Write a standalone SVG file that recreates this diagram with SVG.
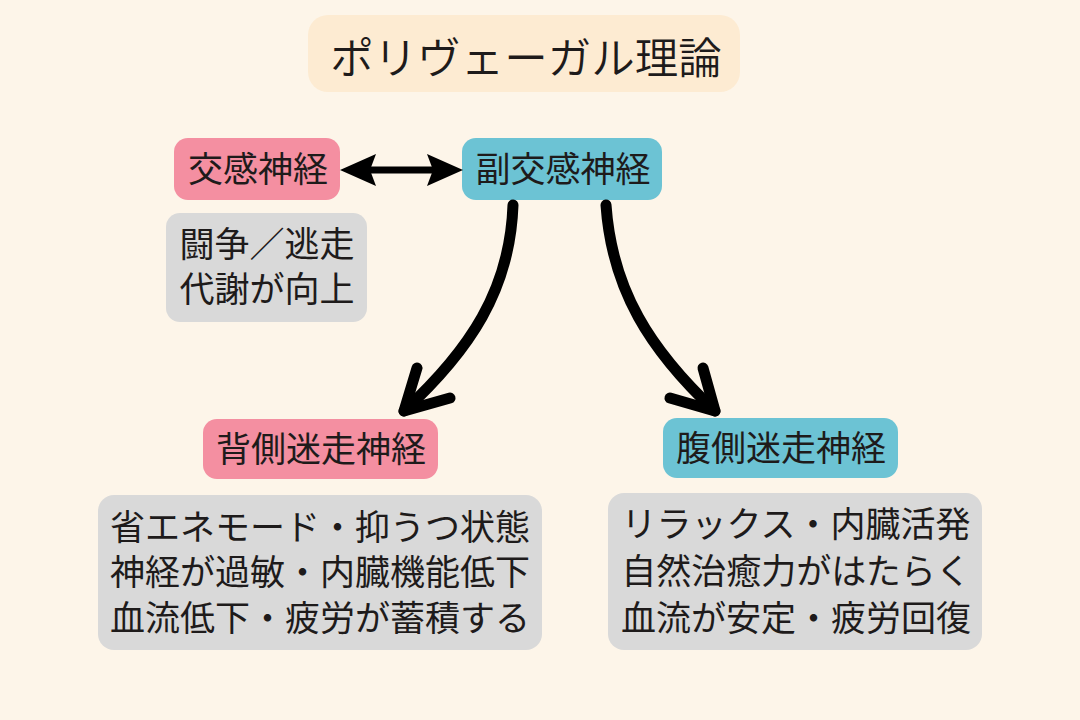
<svg xmlns="http://www.w3.org/2000/svg" width="1080" height="720" viewBox="0 0 1080 720">
<defs>
<style>
.t{font-family:"Noto Sans CJK JP","Noto Sans CJK SC",sans-serif;fill:#1e1b1b;text-anchor:middle}
.lbl{font-size:35px}
.body{font-size:35px}
.pink{fill:#f48fa1}
.teal{fill:#6cc3d4}
.gray{fill:#d9d9d9}
.conn{fill:none;stroke:#000;stroke-width:11;stroke-linecap:round;stroke-linejoin:round}
</style>
</defs>
<rect width="1080" height="720" fill="#fdf5e9"/>
<g id="title">
<rect x="308" y="15" width="432" height="77" rx="20" fill="#fdebd2"/>
<text class="t" x="526" y="74" font-size="43.5" font-weight="350">ポリヴェーガル理論</text>
</g>
<g id="sympathetic">
<rect class="pink" x="174" y="138" width="166" height="62" rx="14"/>
<text class="t lbl" x="258" y="182">交感神経</text>
</g>
<g id="parasympathetic">
<rect class="teal" x="462" y="138" width="200" height="62" rx="14"/>
<text class="t lbl" x="563" y="182">副交感神経</text>
</g>
<g id="sympathetic-note">
<rect class="gray" x="166" y="213" width="201" height="109" rx="14"/>
<text class="t body" x="267" y="257">闘争／逃走<tspan x="267" y="302">代謝が向上</tspan></text>
</g>
<g id="dorsal">
<rect class="pink" x="203" y="419" width="235" height="60" rx="14"/>
<text class="t lbl" x="321" y="462">背側迷走神経</text>
</g>
<g id="dorsal-note">
<rect class="gray" x="98" y="495" width="444" height="155" rx="16"/>
<text class="t body" x="320" y="540">省エネモード・抑うつ状態<tspan x="320" y="585">神経が過敏・内臓機能低下</tspan><tspan x="320" y="631">血流低下・疲労が蓄積する</tspan></text>
</g>
<g id="ventral">
<rect class="teal" x="663" y="418" width="235" height="60" rx="14"/>
<text class="t lbl" x="781" y="461">腹側迷走神経</text>
</g>
<g id="ventral-note">
<rect class="gray" x="608" y="493" width="374" height="157" rx="16"/>
<text class="t body" x="796" y="537">リラックス・内臓活発<tspan x="796" y="584">自然治癒力がはたらく</tspan><tspan x="796" y="631">血流が安定・疲労回復</tspan></text>
</g>
<g id="connectors">
<line x1="368" y1="170" x2="436" y2="170" stroke="#000" stroke-width="7"/>
<path d="M340,170 L376,154 L370,170 L376,186 Z" fill="#000"/>
<path d="M463,170 L427,154 L433,170 L427,186 Z" fill="#000"/>
<path class="conn" d="M513,205 C510,290 470,350 404,411"/>
<path class="conn" d="M417,368 L404,411 L450,398"/>
<path class="conn" d="M606,205 C612,290 650,350 715,411"/>
<path class="conn" d="M703,368 L715,411 L670,398"/>
</g>
</svg>
